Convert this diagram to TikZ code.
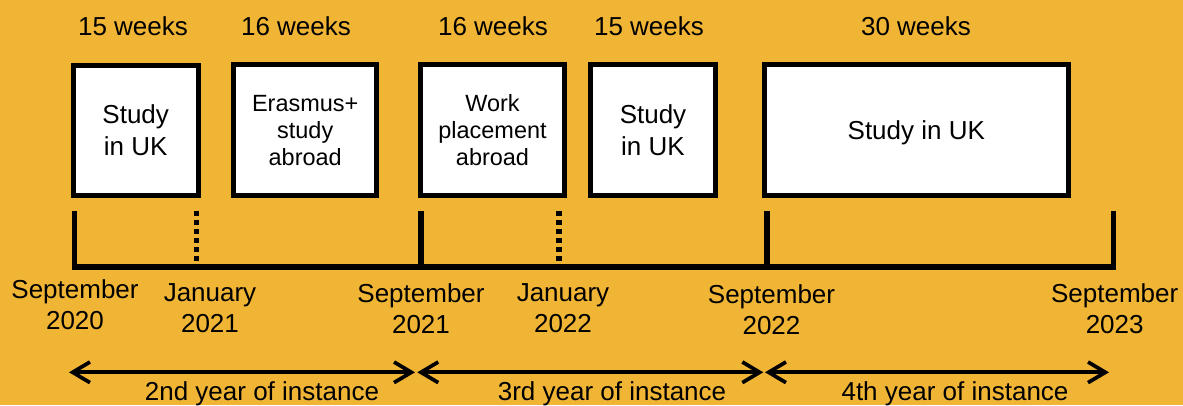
\documentclass[tikz,border=0pt]{standalone}
\usepackage{fontspec}
\setmainfont{Liberation Sans}
\usetikzlibrary{arrows.meta}
\definecolor{bg}{RGB}{241,181,54}
\begin{document}
\begin{tikzpicture}[x=0.75pt,y=-0.75pt,
  box/.style={draw=black, fill=white, line width=3.75pt, inner sep=0pt, align=center, minimum height=98pt},
  bigtxt/.style={font=\fontsize{19.5}{23.8}\selectfont},
  smalltxt/.style={font=\fontsize{17.6}{20.3}\selectfont},
  wk/.style={font=\fontsize{19.5}{23.8}\selectfont, inner sep=0pt, anchor=base},
  lbl/.style={font=\fontsize{19.5}{23.3}\selectfont, inner sep=0pt, align=center, anchor=north},
  tick/.style={line width=3.9pt},
  dtick/.style={line width=3.9pt, dash pattern=on 3.75pt off 3pt},
  axisline/.style={line width=4.1pt},
  span/.style={line width=2.8pt, {Straight Barb[length=13pt,width=15.5pt]}-{Straight Barb[length=13pt,width=15.5pt]}},
  yr/.style={font=\fontsize{19.5}{23.8}\selectfont, inner sep=0pt, anchor=base}
]
\useasboundingbox (0,0) rectangle (1183,405);
\fill[bg] (0,0) rectangle (1183,405);

% duration labels
\node[wk] (w1) at (133,35) {15 weeks};
\node[wk] (w2) at (296,35) {16 weeks};
\node[wk] (w3) at (493,35) {16 weeks};
\node[wk] (w4) at (649,35) {15 weeks};
\node[wk] (w5) at (916,35) {30 weeks};

% boxes
\node[box, bigtxt, minimum width=93.75pt] (b1) at (135.7,130.5) {Study\\in UK};
\node[box, smalltxt, minimum width=107.5pt] (b2) at (305.2,130.3) {Erasmus+\\study\\abroad};
\node[box, smalltxt, minimum width=107.5pt] (b3) at (492.5,130.0) {Work\\placement\\abroad};
\node[box, bigtxt, minimum width=94.2pt] (b4) at (653,130.0) {Study\\in UK};
\node[box, bigtxt, minimum width=228.2pt, text depth=0pt] (b5) at (916.3,130.0) {Study in UK};

% timeline coordinates
\coordinate (t0) at (74.3,267);   \coordinate (t0top) at (74.3,211);
\coordinate (t1) at (196.7,267);  \coordinate (t1top) at (196.7,211);
\coordinate (t2) at (421,267);    \coordinate (t2top) at (421,211);
\coordinate (t3) at (559,267);    \coordinate (t3top) at (559,211);
\coordinate (t4) at (767,267);    \coordinate (t4top) at (767,211);
\coordinate (t5) at (1113.5,267); \coordinate (t5top) at (1113.5,211);

\draw[axisline] (t0) -- (t5);
\draw[tick] (t0top) -- ([yshift=-2pt]t0);
\draw[dtick] (t1top) -- (t1);
\draw[tick] (t2top) -- (t2);
\draw[dtick] (t3top) -- (t3);
\draw[tick] (t4top) -- (t4);
\draw[tick] (t5top) -- ([yshift=-2pt]t5);

% date labels
\node[lbl] (d0) at (75,279) {September\\2020};
\node[lbl] (d1) at (210,283.3) {January\\2021};
\node[lbl] (d2) at (421,283) {September\\2021};
\node[lbl] (d3) at (563,283.3) {January\\2022};
\node[lbl] (d4) at (771.5,284.3) {September\\2022};
\node[lbl] (d5) at (1114.7,283.3) {September\\2023};

% year spans
\coordinate (a0) at (69,372.3);
\coordinate (a1l) at (415,372.3);
\coordinate (a1r) at (417.3,372.3);
\coordinate (a2l) at (763.3,372.3);
\coordinate (a2r) at (765,372.3);
\coordinate (a3) at (1109,372.3);
\draw[span] (a0) -- (a1l);
\draw[span] (a1r) -- (a2l);
\draw[span] (a2r) -- (a3);

\node[yr] (y2) at (262,400.3) {2nd year of instance};
\node[yr] (y3) at (612,400.3) {3rd year of instance};
\node[yr] (y4) at (955,400.3) {4th year of instance};
\end{tikzpicture}
\end{document}
